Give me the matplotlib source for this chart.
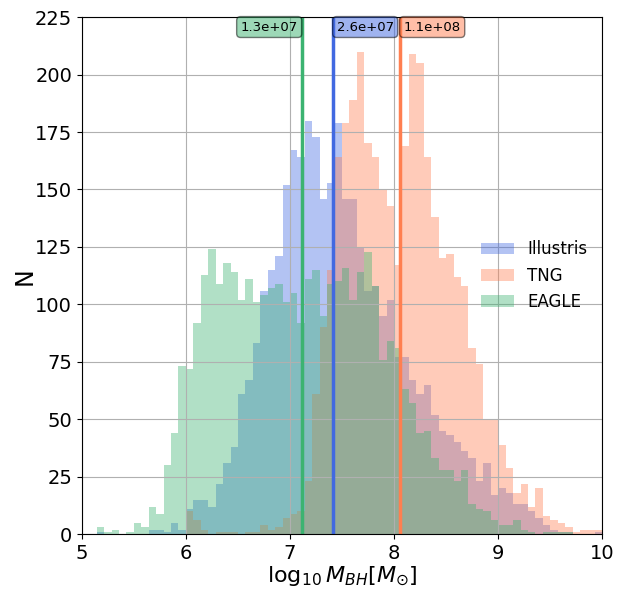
import numpy as np
import matplotlib
matplotlib.use('Agg')
import matplotlib.pyplot as plt

# 70 bins of width 1/14 between log10 M = 5 and 10
bin_lo, bin_hi, n_bins = 5, 10, 70

illustris = [0, 0, 1, 0, 0, 0, 0, 0, 0, 2, 2, 1, 5, 2, 11, 15, 15, 12, 22, 31,
             38, 61, 67, 83, 106, 115, 121, 152, 167, 164, 180, 173, 146, 153,
             179, 146, 146, 125, 106, 108, 95, 102, 77, 77, 67, 61, 65, 52, 45,
             43, 40, 36, 33, 23, 31, 17, 20, 18, 13, 13, 10, 7, 4, 2, 1, 1, 0,
             0, 0, 1]
tng = [0, 0, 0, 0, 0, 0, 0, 0, 0, 0, 0, 0, 0, 0, 10, 6, 2, 0, 1, 1,
       1, 0, 1, 1, 4, 2, 3, 7, 9, 10, 23, 61, 90, 115, 164, 179, 189, 210,
       170, 164, 150, 143, 117, 169, 209, 205, 164, 138, 120, 122, 112, 108,
       81, 74, 50, 50, 39, 29, 18, 22, 12, 20, 8, 6, 5, 3, 1, 2, 2, 2]
eagle = [0, 0, 3, 1, 2, 0, 1, 5, 3, 12, 9, 30, 44, 73, 72, 92, 113, 124, 109,
         118, 114, 102, 111, 101, 104, 107, 109, 101, 105, 92, 111, 115, 95,
         109, 110, 116, 102, 114, 123, 108, 76, 84, 81, 63, 57, 44, 45, 33, 28,
         28, 23, 28, 13, 11, 10, 6, 4, 4, 6, 2, 1, 0, 1, 1, 1, 1, 0, 0, 0, 0]

names = ['Illustris', 'TNG', 'EAGLE']
colors = ['royalblue', 'coral', 'mediumseagreen']
medians = [2.59e7, 1.14e8, 1.29e7]  # median black hole mass per simulation

edges = np.linspace(bin_lo, bin_hi, n_bins + 1)
centers = 0.5 * (edges[:-1] + edges[1:])

fig = plt.figure(figsize=(6.34, 5.89), dpi=100)
ax = fig.add_axes([0.129, 0.093, 0.821, 0.878])

for counts, name, c in zip([illustris, tng, eagle], names, colors):
    ax.hist(centers, bins=edges, weights=counts, color=c, alpha=0.4, label=name)

for m, c in zip(medians, colors):
    lm = np.log10(m)
    ax.axvline(lm, color=c, lw=2.5)
    # green label sits left of its line, the others to the right
    if c == 'mediumseagreen':
        x, ha = lm - 0.035, 'right'
    else:
        x, ha = lm + 0.035, 'left'
    ax.text(x, 223.5, f'{m:.1e}', ha=ha, va='top', fontsize=9.5,
            bbox=dict(boxstyle='round', facecolor=c, alpha=0.5))

ax.set_xlim(5, 10)
ax.set_ylim(0, 225)
ax.set_yticks(np.arange(0, 226, 25))
ax.grid(True)
ax.tick_params(labelsize=14)
ax.set_xlabel(r'$\log_{10}M_{BH}[M_{\odot}]$', fontsize=16, labelpad=1)
ax.set_ylabel('N', fontsize=17, labelpad=-1)
ax.legend(loc='center right', fontsize=12, frameon=False)

fig.savefig('out.png', dpi=100)
